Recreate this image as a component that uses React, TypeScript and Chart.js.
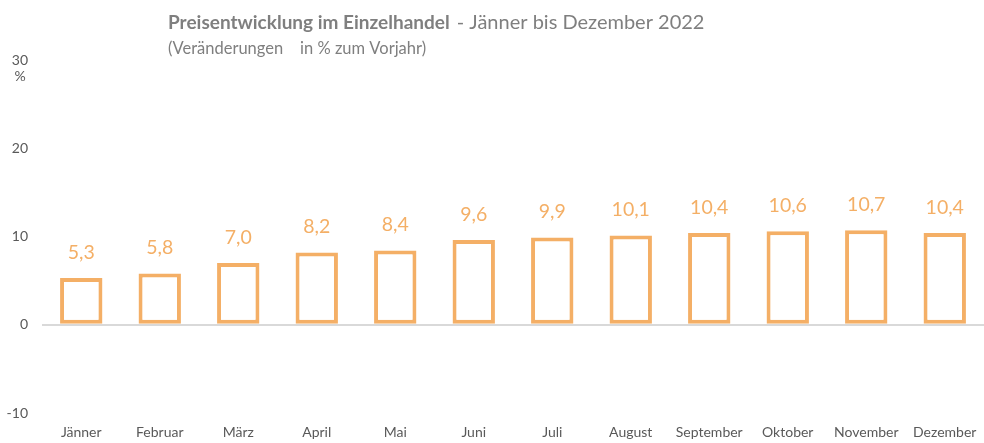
import React, { useEffect, useRef } from "react";
import { Chart, registerables } from "chart.js";

Chart.register(...registerables);

const categories = ["Jänner", "Februar", "März", "April", "Mai", "Juni", "Juli", "August", "September", "Oktober", "November", "Dezember"];
const values = [5.3, 5.8, 7.0, 8.2, 8.4, 9.6, 9.9, 10.1, 10.4, 10.6, 10.7, 10.4];
const titleBold = "Preisentwicklung im Einzelhandel";
const titleRest = " - Jänner bis Dezember 2022";
const subtitle = "(Veränderungen    in % zum Vorjahr)";
const yUnit = "%";

const ORANGE = "#F4AF66";
const GRAY = "#7f7f7f";
const FONT = "Lato, 'Open Sans', sans-serif";

const textPlugin = {
  id: "texts",
  afterDatasetsDraw(chart: any) {
    const ctx = chart.ctx;
    ctx.save();
    ctx.textBaseline = "alphabetic";
    ctx.textAlign = "left";
    ctx.fillStyle = GRAY;
    ctx.font = `bold 19px ${FONT}`;
    ctx.fillText(titleBold, 168, 29);
    const w = ctx.measureText(titleBold).width;
    ctx.font = `20px ${FONT}`;
    ctx.fillText(titleRest, 168 + w + 2, 29);
    ctx.font = `16.5px ${FONT}`;
    ctx.fillText(subtitle, 168, 54);
    ctx.font = `14px ${FONT}`;
    ctx.fillStyle = "#595959";
    ctx.textAlign = "center";
    ctx.fillText(yUnit, 20, 81);
    const meta = chart.getDatasetMeta(0);
    ctx.font = `19.5px ${FONT}`;
    ctx.fillStyle = ORANGE;
    ctx.textBaseline = "bottom";
    meta.data.forEach((bar: any, i: number) => {
      const txt = values[i].toFixed(1).replace(".", ",");
      ctx.fillText(txt, bar.x, bar.y - 16);
    });
    ctx.restore();
  },
};

export default function App() {
  const ref = useRef<HTMLCanvasElement>(null);
  useEffect(() => {
    const chart = new Chart(ref.current!, {
      type: "bar",
      data: {
        labels: categories,
        datasets: [
          {
            data: values,
            backgroundColor: "#ffffff",
            borderColor: ORANGE,
            borderWidth: 4,
            borderSkipped: false,
            categoryPercentage: 1,
            barPercentage: 0.54,
          },
        ],
      },
      options: {
        animation: false,
        responsive: false,
        maintainAspectRatio: false,
        layout: { padding: { top: 60, right: 0, left: 0, bottom: 0 } },
        plugins: { legend: { display: false }, tooltip: { enabled: false } },
        scales: {
          x: {
            grid: { display: false },
            border: { display: false },
            ticks: { color: "#595959", font: { family: FONT, size: 14 }, padding: 3, maxRotation: 0, autoSkip: false },
            afterFit: (s: any) => { s.height = 30; },
          },
          y: {
            min: -10,
            max: 30,
            border: { display: false },
            grid: {
              drawTicks: false,
              lineWidth: 2,
              color: (c: any) => (c.tick && c.tick.value === 0 ? "#d9d9d9" : "rgba(0,0,0,0)"),
            },
            ticks: { stepSize: 10, color: "#595959", font: { family: FONT, size: 14 }, padding: 14 },
            afterFit: (s: any) => { s.width = 42; },
          },
        },
      },
      plugins: [textPlugin],
    });
    return () => chart.destroy();
  }, []);
  return (
    <div style={{ position: "absolute", left: 0, top: 0, width: 984, height: 443, background: "#fff" }}>
      <canvas ref={ref} width={984} height={443} style={{ width: 984, height: 443 }} />
    </div>
  );
}
